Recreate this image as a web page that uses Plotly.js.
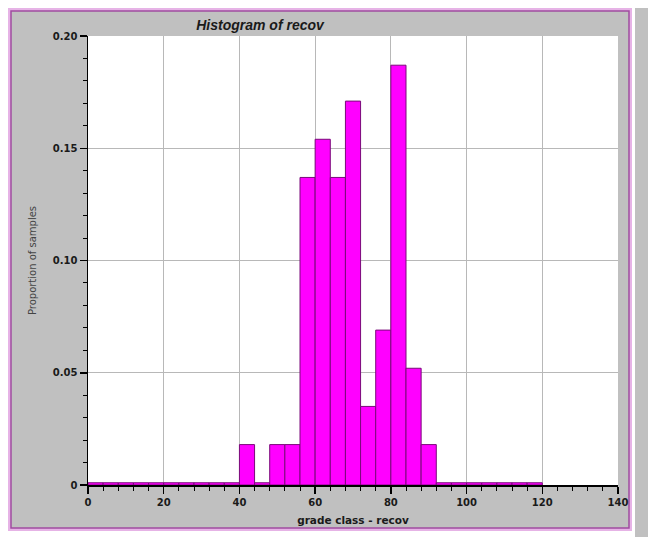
<!DOCTYPE html>
<html>
<head>
<meta charset="utf-8">
<script src="https://cdn.plot.ly/plotly-3.0.1.min.js"></script>
<style>html,body{margin:0;padding:0;background:#fff;}#chart{width:648px;height:537px;}</style>
</head>
<body>
<div id="chart"></div>
<script>
// Histogram bins (grade class, width 4) and proportions
var binCenters = [2,6,10,14,18,22,26,30,34,38,42,46,50,54,58,62,66,70,74,78,82,86,90,94,98,102,106,110,114,118];
var proportions = [0.001,0.001,0.001,0.001,0.001,0.001,0.001,0.001,0.001,0.001,
                   0.018,0.001,0.018,0.018,0.137,0.154,0.137,0.171,0.035,0.069,0.187,0.052,0.018,
                   0.001,0.001,0.001,0.001,0.001,0.001,0.001];
var binWidth = 4;
var yTickVals = [0,0.05,0.10,0.15,0.20];
var yTickText = ['0','0.05','0.10','0.15','0.20'];
var xTickVals = [0,20,40,60,80,100,120,140];
var xTickText = ['0','20','40','60','80','100','120','140'];

var W = 648, H = 537;
var L = 88, R = 618, T = 36, B = 485;
function px(x){ return (x - L)/(R - L); }
function py(y){ return (B - y)/(B - T); }

var font = 'Arial, "Liberation Sans", sans-serif';
var wide = '"DejaVu Sans", sans-serif';

var trace = {
  type: 'bar',
  x: binCenters,
  y: proportions,
  width: binCenters.map(function(){return binWidth;}),
  marker: {color: '#ff00ff', line: {color: '#7a0a7a', width: 1}},
  hoverinfo: 'x+y'
};

var layout = {
  width: W, height: H,
  margin: {l: L, r: W - R, t: T, b: H - B, pad: 0},
  paper_bgcolor: '#ffffff',
  plot_bgcolor: '#ffffff',
  showlegend: false,
  bargap: 0,
  title: {
    text: 'Histogram of recov',
    font: {family: font, size: 14, color: '#1a1a1a', weight: 'bold', style: 'italic'},
    xref: 'paper', x: px(260), xanchor: 'center',
    yref: 'container', y: 1 - 25/H, yanchor: 'middle'
  },
  xaxis: {
    range: [0, 140],
    tickvals: xTickVals, ticktext: xTickText,
    ticks: 'outside', ticklen: 7, tickwidth: 1.5, tickcolor: '#000',
    minor: {dtick: 4, ticks: 'outside', ticklen: 4, tickwidth: 1, tickcolor: '#000', showgrid: false},
    showline: true, linecolor: '#000', linewidth: 1.5,
    showgrid: true, gridcolor: '#b8b8b8', gridwidth: 1,
    zeroline: false,
    tickfont: {family: wide, size: 10, color: '#1a1a1a', weight: 'bold'},
    title: {text: 'grade class - recov', standoff: 10,
            font: {family: wide, size: 10.5, color: '#1a1a1a', weight: 'bold'}},
    automargin: false, fixedrange: true
  },
  yaxis: {
    range: [0, 0.2],
    tickvals: yTickVals, ticktext: yTickText,
    ticks: 'outside', ticklen: 7, tickwidth: 1.5, tickcolor: '#000',
    minor: {dtick: 0.01, ticks: 'outside', ticklen: 4, tickwidth: 1, tickcolor: '#000', showgrid: false},
    showline: true, linecolor: '#000', linewidth: 1.5,
    showgrid: true, gridcolor: '#b8b8b8', gridwidth: 1,
    zeroline: false,
    tickfont: {family: wide, size: 10, color: '#1a1a1a', weight: 'bold'},
    title: {text: 'Proportion of samples', standoff: 14,
            font: {family: wide, size: 10, color: '#444444'}},
    automargin: false, fixedrange: true
  },
  shapes: [
    // right grey panel
    {type: 'rect', xref: 'paper', yref: 'paper', layer: 'below',
     x0: px(635), x1: px(649), y0: py(8), y1: py(538),
     fillcolor: '#c0c0c0', line: {width: 0}},
    // pink halo
    {type: 'rect', xref: 'paper', yref: 'paper', layer: 'below',
     x0: px(9.5), x1: px(630.5), y0: py(9.5), y1: py(529.5),
     fillcolor: 'rgba(0,0,0,0)', line: {color: '#e6b3e6', width: 3}},
    // grey frame
    {type: 'rect', xref: 'paper', yref: 'paper', layer: 'below',
     x0: px(11), x1: px(629), y0: py(11), y1: py(528),
     fillcolor: '#c0c0c0', line: {color: '#a04ca0', width: 1.5}},
    // white plot area
    {type: 'rect', xref: 'paper', yref: 'paper', layer: 'below',
     x0: 0, x1: 1, y0: 0, y1: 1,
     fillcolor: '#ffffff', line: {width: 0}}
  ]
};

Plotly.newPlot('chart', [trace], layout, {displayModeBar: false, staticPlot: true});
</script>
</body>
</html>
